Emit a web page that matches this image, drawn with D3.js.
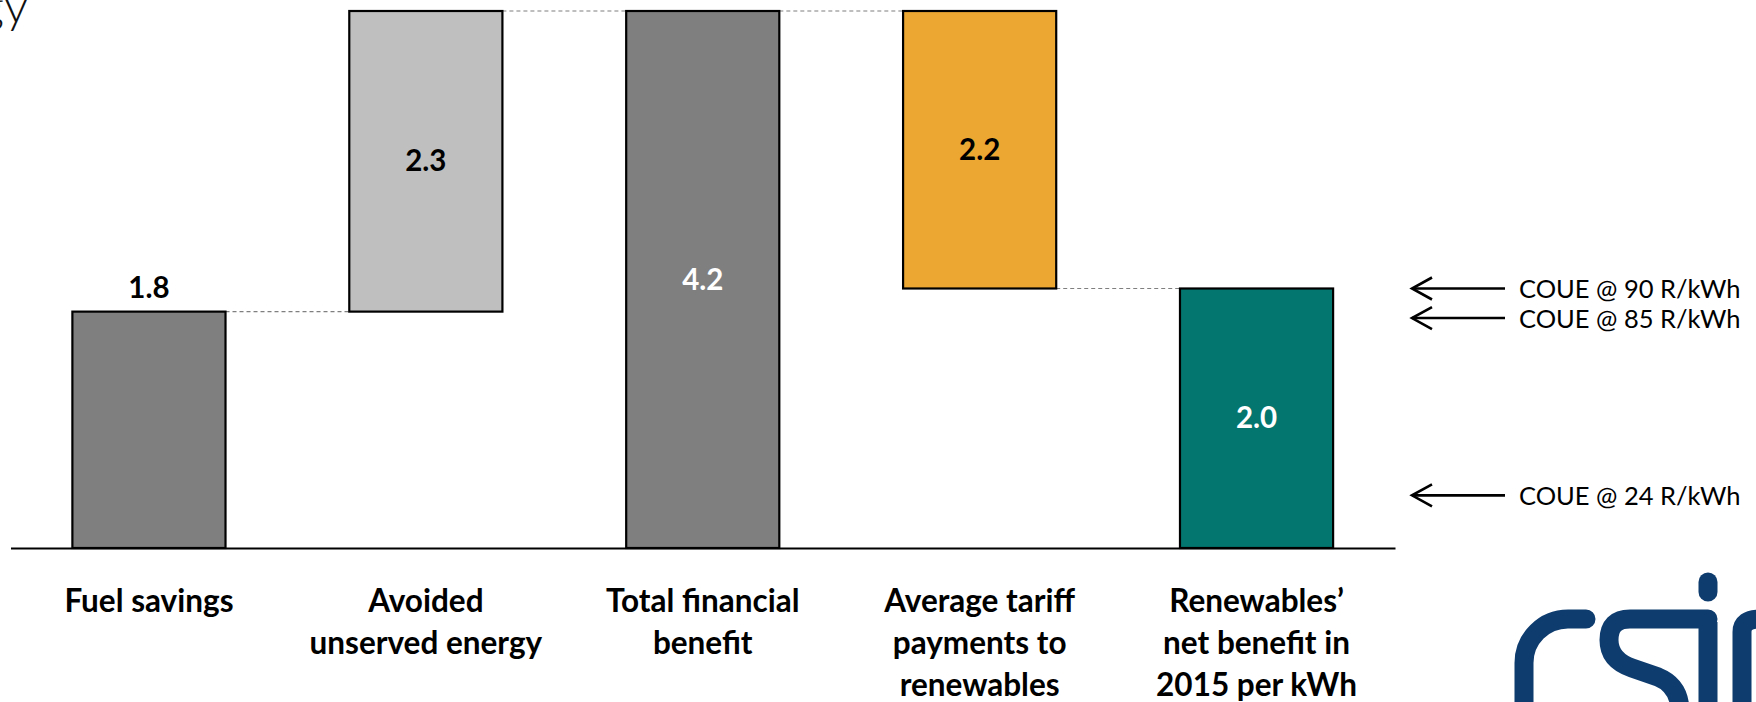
<!DOCTYPE html>
<html>
<head>
<meta charset="utf-8">
<script src="https://cdn.jsdelivr.net/npm/d3@7"></script>
<style>
  html, body { margin: 0; padding: 0; background: #ffffff; }
  svg { display: block; }
</style>
</head>
<body>
<svg id="chart" width="1756" height="702"></svg>
<script>
// ---- data ----
const categories = ["Fuel savings", "Avoided unserved energy", "Total financial benefit",
  "Average tariff payments to renewables", "Renewables’ net benefit in 2015 per kWh"];
const categoryLines = [
  ["Fuel savings"],
  ["Avoided", "unserved energy"],
  ["Total financial", "benefit"],
  ["Average tariff", "payments to", "renewables"],
  ["Renewables’", "net benefit in", "2015 per kWh"]
];
const values = [1.84, 2.34, 4.18, -2.16, 2.02];
const kinds = ["delta", "delta", "total", "delta", "total"];
const barColors = ["#7f7f7f", "#bfbfbf", "#7f7f7f", "#eca732", "#03776f"];
const labelColors = ["#000000", "#000000", "#ffffff", "#000000", "#ffffff"];
const coueValues = [2.02, 1.79, 0.41];
const coueLabels = ["COUE @ 90 R/kWh", "COUE @ 85 R/kWh", "COUE @ 24 R/kWh"];

// ---- waterfall computation ----
let running = 0;
const bars = categories.map((c, i) => {
  let start, end;
  if (kinds[i] === "total") { start = 0; end = values[i]; running = values[i]; }
  else { start = running; end = running + values[i]; running = end; }
  return { cat: c, i, start, end, value: Math.abs(values[i]) };
});

const svg = d3.select("#chart");
const x = d3.scaleBand().domain(categories).range([10.5, 1395]).paddingInner(0.447).paddingOuter(0.2235);
const y = d3.scaleLinear().domain([0, 4.18]).range([548, 11]);
const fmt = d3.format(".1f");

// connectors
const conn = svg.append("g");
bars.slice(0, -1).forEach((b, i) => {
  const nb = bars[i + 1];
  conn.append("line")
    .attr("x1", x(b.cat) + x.bandwidth()).attr("x2", x(nb.cat))
    .attr("y1", y(b.end)).attr("y2", y(b.end))
    .attr("stroke", "#7f7f7f").attr("stroke-width", 1.2).attr("stroke-dasharray", "4,3");
});

// bars
svg.append("g").selectAll("rect").data(bars).join("rect")
  .attr("x", d => x(d.cat))
  .attr("width", x.bandwidth())
  .attr("y", d => y(Math.max(d.start, d.end)))
  .attr("height", d => Math.abs(y(d.start) - y(d.end)))
  .attr("fill", d => barColors[d.i])
  .attr("stroke", "#000").attr("stroke-width", 2.2);

// axis
const axis = svg.append("g").attr("transform", `translate(0,${y(0)})`)
  .call(d3.axisBottom(x).tickSize(0).tickFormat(""));
axis.select(".domain").attr("stroke", "#000").attr("stroke-width", 2.2);

// value labels
svg.append("g").selectAll("text").data(bars).join("text")
  .attr("x", d => x(d.cat) + x.bandwidth() / 2)
  .attr("y", d => d.i === 0 ? y(d.end) - 14 : (y(d.start) + y(d.end)) / 2 + 10)
  .attr("text-anchor", "middle")
  .attr("font-family", "Lato, sans-serif").attr("font-weight", 700).attr("font-size", 29.5)
  .attr("fill", d => labelColors[d.i])
  .text(d => fmt(d.value));

// category labels
const cl = svg.append("g");
categoryLines.forEach((lines, i) => {
  const cx = x(categories[i]) + x.bandwidth() / 2;
  const t = cl.append("text")
    .attr("x", cx)
    .attr("y", 612)
    .attr("text-anchor", "middle")
    .attr("font-family", "Lato, sans-serif").attr("font-weight", 700).attr("font-size", 31.5)
    .attr("fill", "#000");
  lines.forEach((ln, k) => {
    t.append("tspan").attr("x", cx).attr("y", 612 + k * 42).text(ln);
  });
});

// COUE annotations
const ann = svg.append("g");
coueValues.forEach((v, i) => {
  const yy = y(v);
  ann.append("line").attr("x1", 1412).attr("x2", 1505).attr("y1", yy).attr("y2", yy)
    .attr("stroke", "#000").attr("stroke-width", 2.6);
  ann.append("path").attr("d", `M1432,${yy - 11} L1412,${yy} L1432,${yy + 11}`)
    .attr("fill", "none").attr("stroke", "#000").attr("stroke-width", 2.6);
  ann.append("text").attr("x", 1519).attr("y", yy + 9.5)
    .attr("font-family", "Lato, sans-serif").attr("font-size", 25.5).attr("fill", "#000")
    .text(coueLabels[i]);
});

// title fragment (cut off at left edge)
svg.append("text").attr("x", 28).attr("y", 23).attr("text-anchor", "end")
  .attr("font-family", "Lato, sans-serif").attr("font-weight", 300).attr("font-size", 48)
  .attr("fill", "#111").text("energy");

// CSIR logo fragment
const logo = svg.append("g").attr("fill", "none").attr("stroke", "#0f3c6e")
  .attr("stroke-width", 19).attr("stroke-linecap", "round");
logo.append("path").attr("d", "M1586,619 L1568,619 A44,44 0 0 0 1524,663 L1524,740");
logo.append("path").attr("d", "M1708,619 L1630,619 Q1609,619 1609,640 Q1609,660 1632,668 L1658,677 Q1680,686 1680,712 L1680,740");
logo.append("path").attr("d", "M1708,740 L1708,622").attr("stroke-linecap", "butt");
logo.append("path").attr("d", "M1708,582 L1708,592");
logo.append("path").attr("d", "M1742,740 L1742,632 Q1742,619 1760,619").attr("stroke-linecap", "butt");
</script>
</body>
</html>
